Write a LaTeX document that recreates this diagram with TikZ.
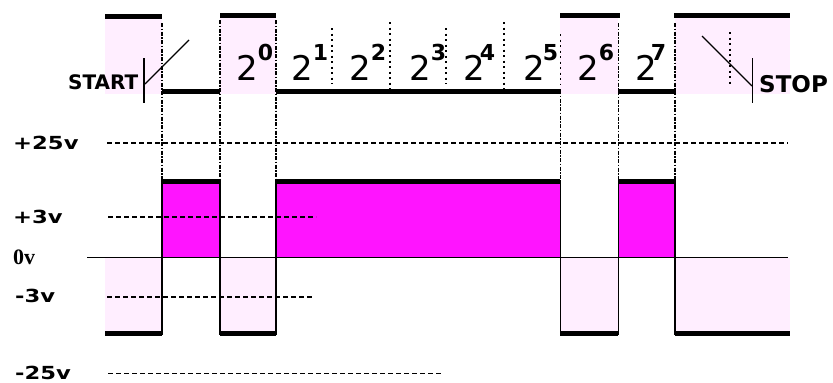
\documentclass[tikz,border=0pt]{standalone}
\usepackage{fontspec}
\setmainfont{DejaVu Sans}
\newfontfamily\serifvolt{Liberation Serif}
\definecolor{pulsefill}{RGB}{255,20,255}
\definecolor{palefill}{RGB}{255,238,255}
\newcommand{\bitlabel}[2][0pt]{{\fontsize{34}{34}\selectfont 2}\kern#1\raisebox{20pt}{\bfseries\fontsize{22}{22}\selectfont #2}}
\newcommand{\voltlabel}[1]{\scalebox{1.26}[1]{#1}}
\tikzset{
    level/.style={line width=5pt},
    edge/.style={line width=1.3pt},
    guide/.style={line width=1.2pt,dash pattern=on 5pt off 3pt},
    slot/.style={line width=1.2pt,dash pattern=on 4pt off 1.5pt on 1.5pt off 1.5pt},
    tick/.style={line width=1.2pt,dash pattern=on 2pt off 3.5pt},
    volt/.style={inner sep=0pt,anchor=base west,font=\bfseries\fontsize{18}{18}\selectfont},
    bit/.style={inner sep=0pt,anchor=base west},
    word/.style={inner sep=0pt,anchor=base west,font=\bfseries}
}

\begin{document}
\begin{tikzpicture}[x=1pt,y=-1pt]
        \useasboundingbox (0,0) rectangle (833,383);
        \fill[palefill] (105,15) rectangle (162,94);
        \fill[palefill] (220,15) rectangle (276,94);
        \fill[palefill] (560,15) rectangle (618,94);
        \fill[palefill] (675,15) rectangle (790,94);
        \fill[palefill] (105,258) rectangle (162,333);
        \fill[palefill] (220,258) rectangle (276,333);
        \fill[palefill] (560,258) rectangle (618,333);
        \fill[palefill] (675,258) rectangle (790,333);
        \fill[pulsefill] (162,180) rectangle (220,258);
        \fill[pulsefill] (276,180) rectangle (560,258);
        \fill[pulsefill] (618,180) rectangle (675,258);
        \draw[guide] (107,143) -- (788,143);
        \draw[guide] (108,217) -- (316,217);
        \draw[guide] (107,297) -- (314,297);
        \draw[guide] (108,373.5) -- (442,373.5);
        \draw[slot] (162,23) -- (162,180);
        \draw[slot] (220,20) -- (220,180);
        \draw[slot] (276,20) -- (276,180);
        \draw[slot] (560.5,90) -- (560.5,180);
        \draw[slot] (618.5,23) -- (618.5,180);
        \draw[slot] (675,23) -- (675,180);
        \draw[tick] (332,28) -- (332,84);
        \draw[tick] (390,22) -- (390,90);
        \draw[tick] (446,28) -- (446,84);
        \draw[tick] (504,22) -- (504,90);
        \draw[tick] (560.5,34) -- (560.5,84);
        \draw[tick] (730,32) -- (730,84);
        \draw[level] (105,16.5) -- (162,16.5);
        \draw[level] (220,15) -- (276,15);
        \draw[level] (560,15) -- (620,15);
        \draw[level] (674,15) -- (790,15);
        \draw[level] (162,91) -- (220,91);
        \draw[level] (276,91) -- (561,91);
        \draw[level] (618,91) -- (676,91);
        \draw[level] (162,181) -- (220,181);
        \draw[level] (276,181) -- (560,181);
        \draw[level] (618,181) -- (675,181);
        \draw[level] (105,333.5) -- (162,333.5);
        \draw[level] (220,333.5) -- (276,333.5);
        \draw[level] (560,333.5) -- (618,333.5);
        \draw[level] (675,333.5) -- (790,333.5);
        \draw[edge] (87,257.5) -- (788,257.5);
        \draw[edge] (162,180) -- (162,335);
        \draw[edge] (220,180) -- (220,335);
        \draw[edge] (276,180) -- (276,335);
        \draw[edge] (560.5,180) -- (560.5,335);
        \draw[edge] (618.5,180) -- (618.5,335);
        \draw[edge] (675,180) -- (675,335);
        \draw[edge] (144,58) -- (144,103);
        \draw[edge] (145,84) -- (189,40);
        \draw[edge] (752.5,58) -- (752.5,103);
        \draw[edge] (702,36) -- (752,86);
        \node[word,font=\bfseries\fontsize{20}{20}\selectfont] (start) at (68,89) {START};
        \node[word,font=\bfseries\fontsize{23}{23}\selectfont] (stop) at (759,92) {STOP};
        \node[bit] (bit0) at (236,80) {\bitlabel{0}};
        \node[bit] (bit1) at (291,80) {\bitlabel{1}};
        \node[bit] (bit2) at (349,80) {\bitlabel{2}};
        \node[bit] (bit3) at (409,80) {\bitlabel{3}};
        \node[bit] (bit4) at (463,80) {\bitlabel[-5pt]{4}};
        \node[bit] (bit5) at (523,80) {\bitlabel[-2pt]{5}};
        \node[bit] (bit6) at (577,80) {\bitlabel{6}};
        \node[bit] (bit7) at (635,80) {\bitlabel[-6pt]{7}};
        \node[volt] (plus25) at (13,149) {\voltlabel{+25v}};
        \node[volt] (plus3) at (13,223) {\voltlabel{+3v}};
        \node[volt,font=\serifvolt\bfseries\fontsize{22}{22}\selectfont] (zero) at (13,264) {0v};
        \node[volt] (minus3) at (15,302) {\voltlabel{-3v}};
        \node[volt] (minus25) at (15,379) {\voltlabel{-25v}};
    \end{tikzpicture}
\end{document}
